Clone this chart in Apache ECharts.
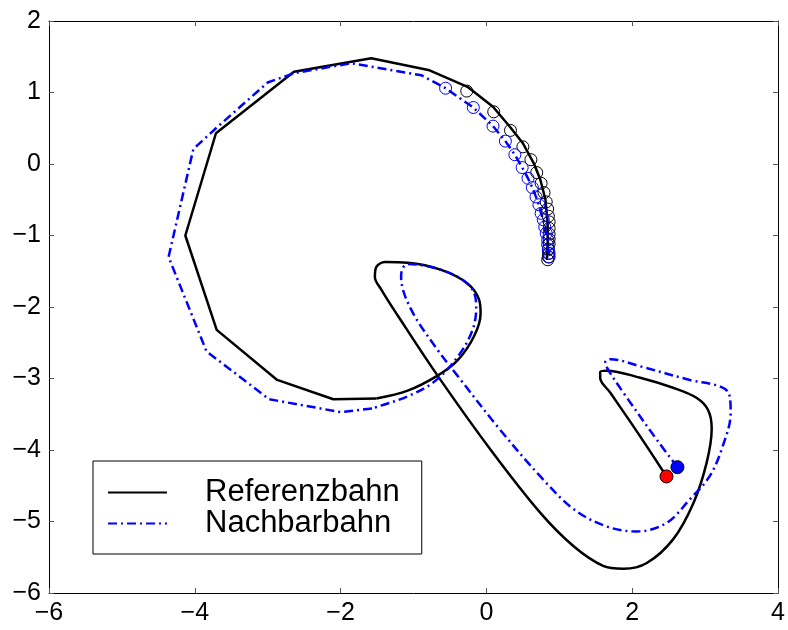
<!DOCTYPE html>
<html>
<head>
<meta charset="utf-8">
<script src="https://cdn.jsdelivr.net/npm/echarts@6/dist/echarts.min.js"></script>
<style>
  html, body { margin: 0; padding: 0; background: #fff; }
  #chart { width: 788px; height: 630px; }
</style>
</head>
<body>
<div id="chart"></div>
<script>
// Referenzbahn: smooth part (starts at the red dot), then the coarse polygon + arc
const refCurve = [
    [2.47, -4.37], [2.20, -3.95], [1.97, -3.60], [1.70, -3.20], [1.56, -2.99],
    [1.56, -2.91], [1.65, -2.89], [2.11, -2.99], [2.56, -3.13], [2.88, -3.27],
    [3.04, -3.44], [3.09, -3.70], [3.02, -4.18], [2.84, -4.74], [2.56, -5.25],
    [2.20, -5.58], [1.88, -5.66], [1.60, -5.62], [1.20, -5.35], [0.74, -4.88],
    [0.06, -4.00], [-0.67, -2.96], [-1.21, -2.13], [-1.44, -1.76], [-1.53, -1.58],
    [-1.51, -1.44], [-1.39, -1.37], [-1.08, -1.38], [-0.62, -1.48], [-0.26, -1.67],
    [-0.10, -1.90], [-0.08, -2.09], [-0.17, -2.41], [-0.39, -2.74], [-0.67, -2.96],
    [-1.08, -3.17], [-1.51, -3.28]
];
const refPolygon = [
    [-1.51, -3.28], [-2.10, -3.29], [-2.87, -3.02], [-3.70, -2.32], [-4.13, -1.00],
    [-3.71, 0.43], [-2.64, 1.29], [-1.58, 1.48], [-0.78, 1.31], [-0.26, 1.08],
    [0.09, 0.80], [0.33, 0.51], [0.50, 0.29], [0.65, 0.01], [0.74, -0.22],
    [0.81, -0.50], [0.84, -0.83], [0.84, -1.11], [0.83, -1.34]
];
// Nachbarbahn: smooth part (starts at the blue dot), then polygon + arc
const nachCurve = [
    [2.62, -4.24], [2.34, -3.86], [1.88, -3.20], [1.66, -2.86], [1.63, -2.77],
    [1.70, -2.73], [2.11, -2.83], [2.79, -3.02], [3.20, -3.11], [3.33, -3.22],
    [3.35, -3.48], [3.24, -3.95], [3.06, -4.37], [2.79, -4.69], [2.47, -5.02],
    [2.06, -5.14], [1.65, -5.07], [1.20, -4.83], [0.74, -4.37], [0.15, -3.67],
    [-0.39, -2.97], [-0.67, -2.60], [-1.03, -2.04], [-1.17, -1.58], [-1.15, -1.46],
    [-1.08, -1.40], [-0.76, -1.44], [-0.39, -1.58], [-0.19, -1.76], [-0.14, -1.99],
    [-0.19, -2.32], [-0.39, -2.69], [-0.71, -3.04], [-1.08, -3.25], [-1.48, -3.39],
    [-1.57, -3.42]
];
const nachPolygon = [
    [-1.57, -3.42], [-2.00, -3.47], [-2.98, -3.29], [-3.84, -2.62], [-4.36, -1.30],
    [-4.02, 0.21], [-3.71, 0.50], [-3.00, 1.14], [-2.64, 1.27], [-1.85, 1.41],
    [-0.89, 1.24], [-0.56, 1.06], [-0.18, 0.79], [0.09, 0.53], [0.26, 0.32],
    [0.39, 0.13], [0.49, -0.05], [0.57, -0.20], [0.63, -0.33], [0.68, -0.46],
    [0.72, -0.57], [0.75, -0.69], [0.78, -0.78], [0.80, -0.88], [0.82, -0.97],
    [0.84, -1.06], [0.84, -1.13], [0.85, -1.20], [0.86, -1.25], [0.86, -1.30]
];
const refCircles = [
    [-0.27, 1.02], [0.10, 0.73], [0.33, 0.47], [0.50, 0.24], [0.61, 0.06],
    [0.69, -0.12], [0.75, -0.27], [0.79, -0.40], [0.82, -0.53], [0.84, -0.63],
    [0.85, -0.73], [0.86, -0.81], [0.86, -0.90], [0.86, -0.98], [0.86, -1.05],
    [0.86, -1.12], [0.85, -1.19], [0.85, -1.25], [0.85, -1.30], [0.84, -1.34]
];
const nachCircles = [
    [-0.56, 1.06], [-0.18, 0.79], [0.09, 0.53], [0.26, 0.32], [0.39, 0.13],
    [0.49, -0.05], [0.57, -0.20], [0.63, -0.33], [0.68, -0.46], [0.72, -0.57],
    [0.75, -0.69], [0.78, -0.78], [0.80, -0.88], [0.82, -0.97], [0.84, -1.06],
    [0.84, -1.13], [0.85, -1.20], [0.86, -1.25], [0.86, -1.30]
];
const refStart = [[2.47, -4.37]];
const nachStart = [[2.62, -4.24]];
const legendNames = ['Referenzbahn', 'Nachbarbahn'];

const FONT = '"Liberation Sans", Arial, Helvetica, sans-serif';

const fmtMinus = (v) => (v < 0 ? '\u2212' + Math.abs(v) : String(v));

const getAxis = (min, max, interval, position, showLabel) => ({
    type: 'value',
    min: min,
    max: max,
    interval: interval,
    position: position,
    axisLine: { show: true, onZero: false, lineStyle: { color: '#000', width: 1 } },
    axisTick: { show: true, inside: true, length: 5, lineStyle: { color: '#555', width: 1 } },
    axisLabel: {
        show: showLabel,
        fontSize: 25,
        fontFamily: FONT,
        color: '#000',
        margin: 8,
        formatter: fmtMinus
    },
    splitLine: { show: false }
});

const refLine = { color: '#000', width: 2.5 };
const nachLine = { color: '#0000ff', width: 2.5, type: [9, 4, 2, 4] };

const getMarkers = (name, data, size, fill, edge, z) => ({
    name: name,
    type: 'scatter',
    data: data,
    symbol: 'circle',
    symbolSize: size,
    itemStyle: { color: fill, borderColor: edge, borderWidth: 1, opacity: 1 },
    emphasis: { disabled: true },
    z: z
});

const option = {
    animation: false,
    backgroundColor: '#fff',
    grid: { left: 49, right: 6, top: 21, bottom: 37 },
    xAxis: [
        getAxis(-6, 4, 2, 'bottom', true),
        getAxis(-6, 4, 2, 'top', false)
    ],
    yAxis: [
        getAxis(-6, 2, 1, 'left', true),
        getAxis(-6, 2, 1, 'right', false)
    ],
    legend: {
        data: legendNames,
        orient: 'vertical',
        left: 93,
        top: 461,
        itemWidth: 59,
        itemHeight: 30,
        itemGap: 0,
        padding: [16, 22, 15, 14],
        borderColor: '#000',
        borderWidth: 1,
        borderRadius: 0,
        backgroundColor: '#fff',
        selectedMode: false,
        itemStyle: { opacity: 0 },
        textStyle: {
            fontSize: 31,
            fontFamily: FONT,
            color: '#000',
            lineHeight: 30,
            padding: [0, 0, 0, 33]
        }
    },
    series: [
        {
            name: 'Referenzbahn', type: 'line', data: refCurve, smooth: 0.35,
            symbol: 'none', color: '#000', lineStyle: refLine, z: 2
        },
        {
            name: 'Referenzbahn', type: 'line', data: refPolygon, smooth: false,
            symbol: 'none', color: '#000', lineStyle: refLine, z: 2
        },
        {
            name: 'Nachbarbahn', type: 'line', data: nachCurve, smooth: 0.35,
            symbol: 'none', color: '#0000ff', lineStyle: nachLine, z: 3
        },
        {
            name: 'Nachbarbahn', type: 'line', data: nachPolygon, smooth: false,
            symbol: 'none', color: '#0000ff', lineStyle: nachLine, z: 3
        },
        getMarkers('refPoints', refCircles, 12, 'rgba(0,0,0,0)', '#000', 4),
        getMarkers('nachPoints', nachCircles, 12, 'rgba(0,0,0,0)', '#0000ff', 4),
        getMarkers('nachStart', nachStart, 13, '#0000ff', '#000', 5),
        getMarkers('refStart', refStart, 13, '#ff0000', '#000', 6)
    ]
};

const myChart = echarts.init(document.getElementById('chart'), null, { renderer: 'canvas' });
myChart.setOption(option);
</script>
</body>
</html>
